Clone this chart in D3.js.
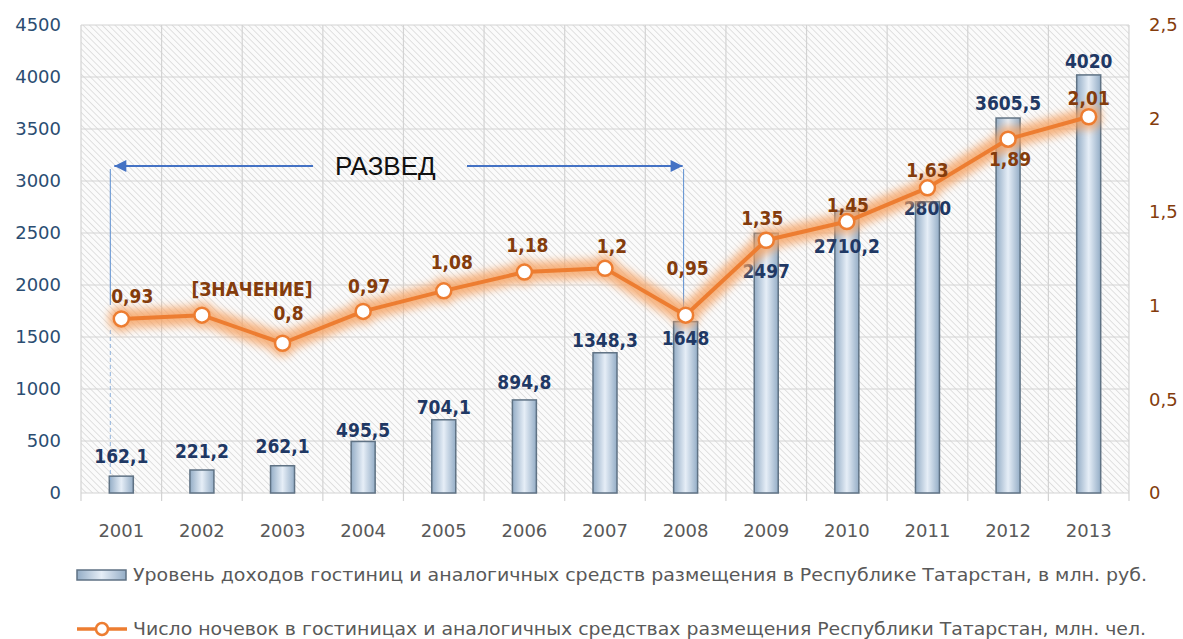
<!DOCTYPE html>
<html>
<head>
<meta charset="utf-8">
<script src="https://cdn.jsdelivr.net/npm/d3@7"></script>
<style>
  body { margin: 0; background: #fff; }
  svg text { font-family: "DejaVu Sans Condensed", "DejaVu Sans", sans-serif; font-stretch: condensed; }
  svg .axis text { font-family: "DejaVu Sans", sans-serif; font-stretch: normal; }
</style>
</head>
<body>
<script>
// data
const years = ['2001', '2002', '2003', '2004', '2005', '2006', '2007', '2008', '2009', '2010', '2011', '2012', '2013'];
const income = [162.1, 221.2, 262.1, 495.5, 704.1, 894.8, 1348.3, 1648, 2497, 2710.2, 2800, 3605.5, 4020];
const nights = [0.93, 0.95, 0.8, 0.97, 1.08, 1.18, 1.2, 0.95, 1.35, 1.45, 1.63, 1.89, 2.01];
const nightsText = ['0,93', '[ЗНАЧЕНИЕ]', '0,8', '0,97', '1,08', '1,18', '1,2', '0,95', '1,35', '1,45', '1,63', '1,89', '2,01'];
const leftTicks = [0, 500, 1000, 1500, 2000, 2500, 3000, 3500, 4000, 4500];
const rightTicks = [0, 0.5, 1, 1.5, 2, 2.5];
const legendBar = 'Уровень доходов гостиниц и аналогичных средств размещения в Республике Татарстан, в млн. руб.';
const legendLine = 'Число ночевок в гостиницах и аналогичных средствах размещения Республики Татарстан, млн. чел.';
const noteText = 'РАЗВЕД';

// label placement (px offsets from the mark)
const incomeLabelDy = [-13, -12, -13, -4, -6, -11, -6, 23, 45, 42, 13, -8, -7];
const nightsLabelDx = [11, 50, 6, 6, 8, 3, 7, 2, -4, 1, 0, 2, 0];
const nightsLabelDy = [-16, -19, -23, -18, -22, -20, -15, -40, -15, -10, -11, 27, -12];

const W = 1183, H = 639;
const svg = d3.select('body').append('svg').attr('width', W).attr('height', H);
const defs = svg.append('defs');

// hatch background
const pat = defs.append('pattern')
    .attr('id', 'hatch')
    .attr('patternUnits', 'userSpaceOnUse')
    .attr('width', 4.5).attr('height', 4.5)
    .attr('patternTransform', 'rotate(-45)');
pat.append('rect').attr('width', 4.5).attr('height', 4.5).attr('fill', '#fbfbfb');
pat.append('line').attr('x1', 0).attr('y1', 0).attr('x2', 0).attr('y2', 4.5)
    .attr('stroke', '#d2d2d2').attr('stroke-width', 1.3);

// bar gradient
const grad = defs.append('linearGradient').attr('id', 'barGrad').attr('x1', 0).attr('x2', 1).attr('y1', 0).attr('y2', 0);
grad.append('stop').attr('offset', '0%').attr('stop-color', '#94adc6');
grad.append('stop').attr('offset', '50%').attr('stop-color', '#e6eef7');
grad.append('stop').attr('offset', '100%').attr('stop-color', '#94adc6');

// glow
defs.append('filter').attr('id', 'glow')
    .attr('x', '-20%').attr('y', '-50%').attr('width', '140%').attr('height', '200%')
    .append('feGaussianBlur').attr('stdDeviation', 4);

// arrowhead
defs.append('marker').attr('id', 'arrow')
    .attr('viewBox', '0 0 10 10').attr('refX', 10).attr('refY', 5)
    .attr('markerWidth', 14).attr('markerHeight', 12)
    .attr('markerUnits', 'userSpaceOnUse')
    .attr('orient', 'auto')
    .append('path').attr('d', 'M0,0L10,5L0,10z').attr('fill', '#4472c4');

// scales
const x = d3.scaleBand().domain(years).range([81, 1129]).padding(0);
const yL = d3.scaleLinear().domain([0, 4500]).range([493, 25]);
const yR = d3.scaleLinear().domain([0, 2.5]).range([493, 25]);
const cx = d => x(d) + x.bandwidth() / 2;
const barW = 24;

// plot background
svg.append('rect')
    .attr('x', x.range()[0]).attr('y', yL(4500))
    .attr('width', x.range()[1] - x.range()[0]).attr('height', yL(0) - yL(4500))
    .attr('fill', 'url(#hatch)');

// grid
svg.append('g').selectAll('line').data(leftTicks).join('line')
    .attr('x1', x.range()[0]).attr('x2', x.range()[1])
    .attr('y1', d => yL(d)).attr('y2', d => yL(d))
    .attr('stroke', '#d3d3d3').attr('stroke-width', 1.2);
svg.append('g').selectAll('line').data(years.concat(['end'])).join('line')
    .attr('x1', d => d === 'end' ? x.range()[1] : x(d))
    .attr('x2', d => d === 'end' ? x.range()[1] : x(d))
    .attr('y1', yL(4500)).attr('y2', yL(0) + 8)
    .attr('stroke', '#d3d3d3').attr('stroke-width', 1.2);

// axes
const comma = t => String(t).replace('.', ',');
const ax = svg.append('g').attr('class', 'axis').attr('transform', 'translate(64,0)')
    .call(d3.axisLeft(yL).tickValues(leftTicks).tickSize(0).tickPadding(3).tickFormat(d => String(d)));
ax.select('.domain').remove();
ax.selectAll('text').attr('fill', '#2b4d72').attr('font-size', 18);

const axR = svg.append('g').attr('class', 'axis').attr('transform', 'translate(1146,0)')
    .call(d3.axisRight(yR).tickValues(rightTicks).tickSize(0).tickPadding(3).tickFormat(comma));
axR.select('.domain').remove();
axR.selectAll('text').attr('fill', '#843c0c').attr('font-size', 18);

const axB = svg.append('g').attr('class', 'axis').attr('transform', `translate(0,${yL(0)})`)
    .call(d3.axisBottom(x).tickSize(0).tickPadding(31));
axB.select('.domain').remove();
axB.selectAll('text').attr('fill', '#595959').attr('font-size', 18);

// bars
svg.append('g').selectAll('rect').data(income).join('rect')
    .attr('x', (d, i) => cx(years[i]) - barW / 2)
    .attr('y', d => yL(d))
    .attr('width', barW)
    .attr('height', d => yL(0) - yL(d))
    .attr('fill', 'url(#barGrad)')
    .attr('stroke', '#5f7284').attr('stroke-width', 1.5);

// annotation
const ay = 166;
const xa = cx('2001') - barW / 2 + 1;
const xb = cx('2008') - 2;
const ann = svg.append('g');
ann.append('line').attr('x1', 313).attr('x2', xa + 4).attr('y1', ay).attr('y2', ay)
    .attr('stroke', '#4472c4').attr('stroke-width', 2).attr('marker-end', 'url(#arrow)');
ann.append('line').attr('x1', 467).attr('x2', xb - 1).attr('y1', ay).attr('y2', ay)
    .attr('stroke', '#4472c4').attr('stroke-width', 2).attr('marker-end', 'url(#arrow)');
ann.append('line').attr('x1', xa).attr('x2', xa).attr('y1', ay + 3).attr('y2', 305)
    .attr('stroke', '#5b8ed0').attr('stroke-width', 1);
ann.append('line').attr('x1', xa).attr('x2', xa).attr('y1', 330).attr('y2', 480)
    .attr('stroke', '#8fb2dc').attr('stroke-width', 1).attr('stroke-dasharray', '4,3');
ann.append('line').attr('x1', xb).attr('x2', xb).attr('y1', ay + 3).attr('y2', yR(nights[7]))
    .attr('stroke', '#5b8ed0').attr('stroke-width', 1);
ann.append('text').attr('x', 335).attr('y', 175)
    .style('font-family', '"Liberation Sans", Arial, sans-serif').style('font-stretch', 'normal')
    .attr('font-size', 26).attr('fill', '#111').text(noteText);

// bar labels
svg.append('g').selectAll('text').data(income).join('text')
    .attr('x', (d, i) => cx(years[i]))
    .attr('y', (d, i) => yL(d) + incomeLabelDy[i])
    .attr('text-anchor', 'middle')
    .attr('font-size', 19).attr('font-weight', 'bold')
    .attr('fill', '#1f3864')
    .text(d => comma(d));

// line with glow
const line = d3.line().x((d, i) => cx(years[i])).y(d => yR(d));
const glow = svg.append('g').attr('filter', 'url(#glow)').attr('opacity', 0.8);
glow.append('path').attr('d', line(nights))
    .attr('fill', 'none').attr('stroke', '#f6a160').attr('stroke-width', 19)
    .attr('stroke-linejoin', 'round').attr('stroke-linecap', 'round');
glow.selectAll('circle').data(nights).join('circle')
    .attr('cx', (d, i) => cx(years[i])).attr('cy', d => yR(d)).attr('r', 13)
    .attr('fill', '#f6a160');

svg.append('path').attr('d', line(nights))
    .attr('fill', 'none').attr('stroke', '#ed7d31').attr('stroke-width', 4)
    .attr('stroke-linejoin', 'round');
svg.append('g').selectAll('circle').data(nights).join('circle')
    .attr('cx', (d, i) => cx(years[i])).attr('cy', d => yR(d)).attr('r', 7.5)
    .attr('fill', '#fff').attr('stroke', '#ed7d31').attr('stroke-width', 2.5);

// line labels
svg.append('g').selectAll('text').data(nights).join('text')
    .attr('x', (d, i) => cx(years[i]) + nightsLabelDx[i])
    .attr('y', (d, i) => yR(d) + nightsLabelDy[i])
    .attr('text-anchor', 'middle')
    .attr('font-size', 19).attr('font-weight', 'bold')
    .attr('fill', '#843c0c')
    .text((d, i) => nightsText[i]);

// legend
const lg = svg.append('g');
lg.append('rect').attr('x', 77).attr('y', 570).attr('width', 49).attr('height', 10)
    .attr('fill', 'url(#barGrad)').attr('stroke', '#5f7284').attr('stroke-width', 1.5);
lg.append('text').attr('x', 133).attr('y', 581)
    .attr('font-size', 18).attr('fill', '#595959')
    .attr('textLength', 1014).attr('lengthAdjust', 'spacingAndGlyphs')
    .text(legendBar);
lg.append('line').attr('x1', 77).attr('x2', 127).attr('y1', 629).attr('y2', 629)
    .attr('stroke', '#ed7d31').attr('stroke-width', 3.5);
lg.append('circle').attr('cx', 102).attr('cy', 629).attr('r', 6)
    .attr('fill', '#fff').attr('stroke', '#ed7d31').attr('stroke-width', 2.5);
lg.append('text').attr('x', 133).attr('y', 635)
    .attr('font-size', 18).attr('fill', '#595959')
    .attr('textLength', 1013).attr('lengthAdjust', 'spacingAndGlyphs')
    .text(legendLine);
</script>
</body>
</html>
